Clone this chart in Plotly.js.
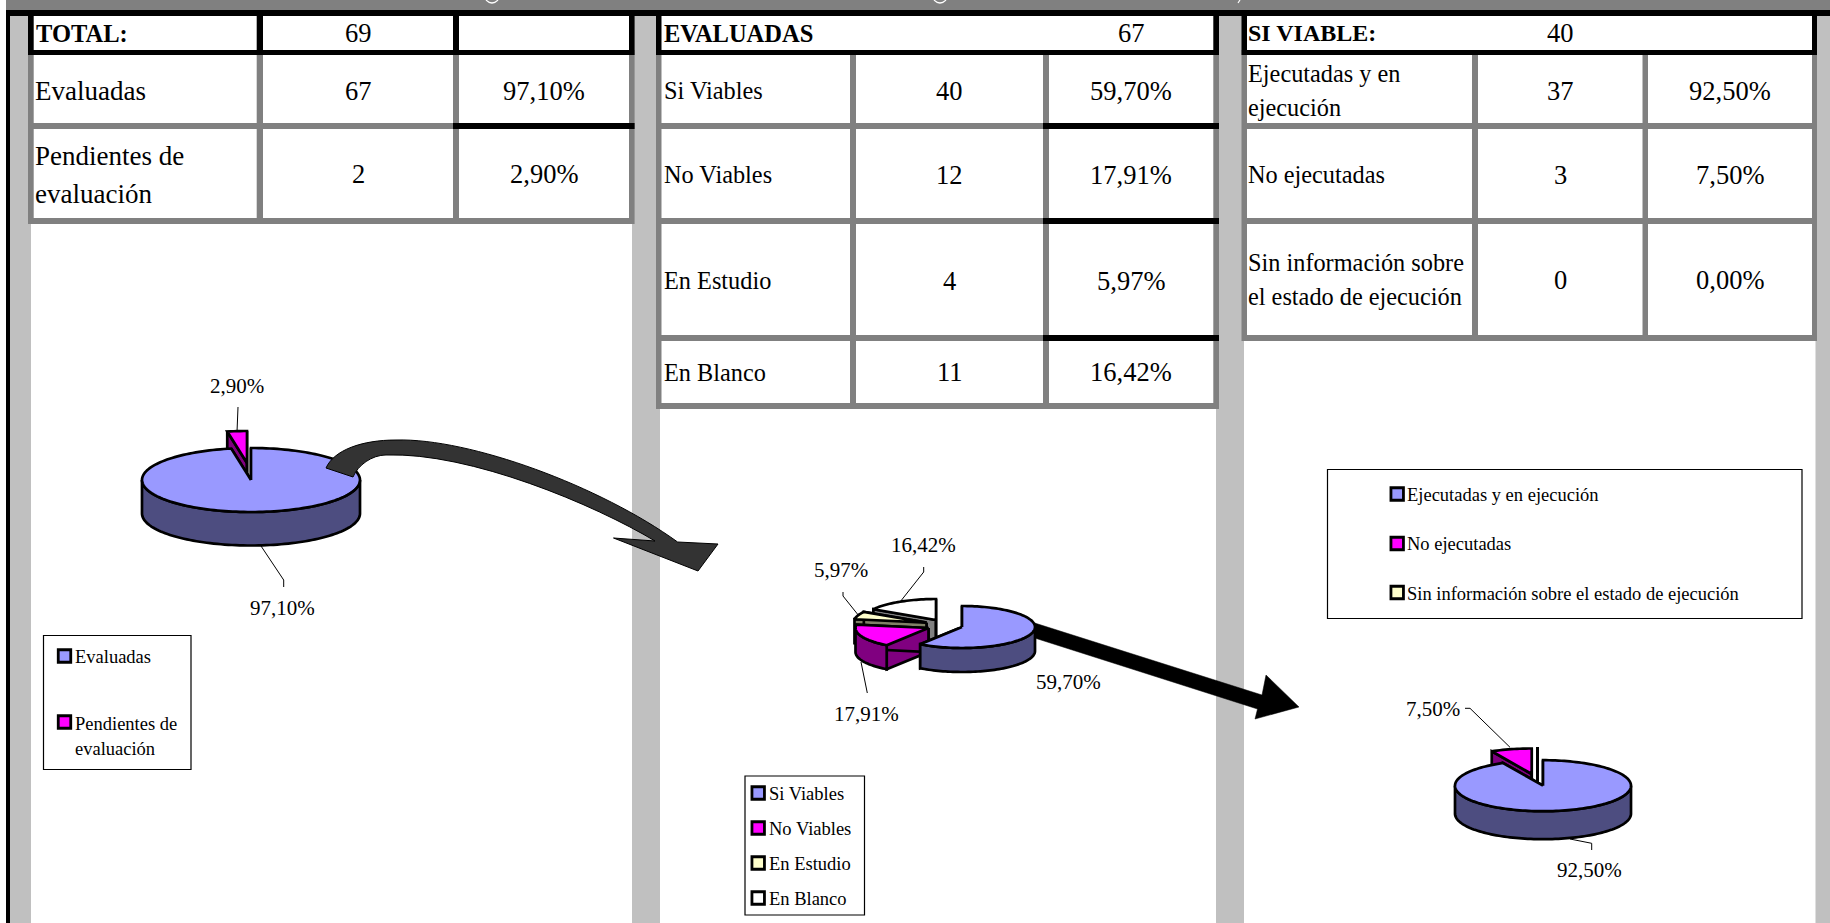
<!DOCTYPE html>
<html>
<head>
<meta charset="utf-8">
<script src="https://cdn.plot.ly/plotly-3.0.1.min.js"></script>
<style>html,body{margin:0;padding:0;background:#fff}#chart{width:1830px;height:923px}</style>
</head>
<body>
<div id="chart"></div>
<script>
// ---------- DATA ----------
const totalHeader = "TOTAL:";
const totalCount = 69;
const totalLabels = ["Evaluadas", "Pendientes de<br>evaluación"];
const totalCounts = [67, 2];
const totalPcts = [97.10, 2.90];
const totalLegend = ["Evaluadas", "Pendientes de<br>evaluación"];

const evalHeader = "EVALUADAS";
const evalCount = 67;
const evalLabels = ["Si Viables", "No Viables", "En Estudio", "En Blanco"];
const evalCounts = [40, 12, 4, 11];
const evalPcts = [59.70, 17.91, 5.97, 16.42];

const viableHeader = "SI VIABLE:";
const viableCount = 40;
const viableLabels = ["Ejecutadas y en<br>ejecución", "No ejecutadas", "Sin información sobre<br>el estado de ejecución"];
const viableCounts = [37, 3, 0];
const viablePcts = [92.50, 7.50, 0.00];
const viableLegend = ["Ejecutadas y en ejecución", "No ejecutadas", "Sin información sobre el estado de ejecución"];

const topColors = ["#9999ff", "#ff00ff", "#ffffcc", "#ffffff"];
const wallColors = ["#4d4d80", "#800080", "#808066", "#808080"];

// ---------- HELPERS ----------
const FONT = "'Liberation Serif','Times New Roman',serif";
const fmtPct = v => v.toFixed(2).replace(".", ",") + "%";
const shapes = [], annotations = [], traces = [];

function rect(x0, y0, x1, y1, fill, layer) {
  shapes.push({type:"rect", xref:"x", yref:"y", x0, y0, x1, y1, fillcolor:fill, line:{width:0}, layer:layer||"below"});
}
function text(x, y, s, size, anchor, bold) {
  annotations.push({x, y, xref:"x", yref:"y", text: bold ? "<b>"+s+"</b>" : s, showarrow:false,
    xanchor:anchor||"center", yanchor:"middle", borderpad:0,
    font:{family:FONT, size, color:"#000"}});
}
function leader(pts) {
  shapes.push({type:"path", xref:"x", yref:"y", layer:"above", line:{color:"#000", width:1},
    path:"M "+pts.map(p=>p.join(" ")).join(" L ")});
}
function poly(xy, fill) {
  traces.push({type:"scatter", mode:"lines", x:xy.map(p=>p[0]), y:xy.map(p=>p[1]),
    fill:"toself", fillcolor:fill, line:{color:"#000", width:2.7, simplify:false},
    hoverinfo:"skip", showlegend:false});
}

// one extruded pie slice, angles in degrees clockwise from 12 o'clock
function slice(g, apex, a0, a1, top, wall) {
  const pt = (d, drop) => { const r = d*Math.PI/180;
    return [apex[0] + g.rx*Math.sin(r), apex[1] - g.ry*Math.cos(r) + (drop||0)]; };
  const arc = (s, e, drop) => { const out = []; const n = Math.max(1, Math.ceil(Math.abs(e-s)/2));
    for (let i=0;i<=n;i++) out.push(pt(s+(e-s)*i/n, drop)); return out; };
  const base = [apex[0], apex[1]+g.depth];
  [a0, a1].forEach(a => {
    const xy = [apex, pt(a), pt(a, g.depth), base, apex];
    poly(xy, wall);
  });
  const fs = Math.max(a0, 90), fe = Math.min(a1, 270);
  if (fe > fs) {
    const xy = arc(fs, fe).concat(arc(fe, fs, g.depth));
    xy.push(xy[0]);
    poly(xy, wall);
  }
  const xy = [apex].concat(arc(a0, a1)); xy.push(apex);
  poly(xy, top);
}
function pie(g, pcts, drawOrder) {
  const starts = []; let acc = 0;
  pcts.forEach(p => { starts.push(acc); acc += p*3.6; });
  drawOrder.forEach(i => slice(g, g.apex[i], starts[i], starts[i]+pcts[i]*3.6, topColors[i], wallColors[i]));
}
function legendBox(x0, y0, x1, y1) {
  shapes.push({type:"rect", xref:"x", yref:"y", x0, y0, x1, y1, fillcolor:"#fff", line:{color:"#000", width:1.2}, layer:"below"});
}
function swatches(xs, ys, colors) {
  traces.push({type:"scatter", mode:"markers", x:ys.map(()=>xs), y:ys,
    marker:{symbol:"square", size:12.5, color:colors, line:{color:"#000", width:2.8}},
    hoverinfo:"skip", showlegend:false, cliponaxis:false});
}

// ---------- PAGE BACKGROUND ----------
rect(6, 0, 1830, 10, "#808080");
rect(6, 10, 1830, 16, "#000000");
rect(6, 16, 10, 923, "#000000");
[[10,31],[632,660],[1216,1244],[1815.5,1830]].forEach(p => rect(p[0], 16, p[1], 923, "#c0c0c0"));
// descender fragments of the cropped title
[[486,498],[934,946]].forEach(p => shapes.push({type:"path", xref:"x", yref:"y", layer:"below",
  line:{color:"#fff", width:1.2}, path:`M ${p[0]} 0 Q ${(p[0]+p[1])/2} 6 ${p[1]} 0`}));
shapes.push({type:"path", xref:"x", yref:"y", layer:"below", line:{color:"#fff", width:1.2}, path:"M 1240 0 L 1238 3"});

// ---------- TABLES ----------
function table(t) {
  const rowsEnd = t.rows[t.rows.length-1][1];
  rect(t.outer[0], 50, t.outer[1], rowsEnd + 6, "#808080");
  rect(t.outer[0], 16, t.outer[1], 55, "#000000");
  if (t.headerSplit) t.cols.forEach(c => rect(c[0], 16, c[1], 50, "#ffffff"));
  else rect(t.cols[0][0], 16, t.cols[2][1], 50, "#ffffff");
  t.rows.forEach(r => t.cols.forEach(c => rect(c[0], r[0], c[1], r[1], "#ffffff")));
  (t.blackSeps||[]).forEach(i => rect(t.cols[2][0]-6, t.rows[i][1], t.outer[1], t.rows[i+1][0], "#000000"));
  text(t.headX, 33, t.header, t.headSize, "left", true);
  text((t.cols[t.countCol][0]+t.cols[t.countCol][1])/2, 33, String(t.count), 26.5);
  t.labels.forEach((lab, i) => {
    const lines = lab.split("<br>");
    const mid = t.textY[i];
    lines.forEach((ln, k) => text(t.textX, mid + (k-(lines.length-1)/2)*t.lineGap, ln, t.labelSize, "left"));
    text((t.cols[1][0]+t.cols[1][1])/2, t.numY[i], String(t.counts[i]), 26.5);
    text((t.cols[2][0]+t.cols[2][1])/2, t.numY[i], fmtPct(t.pcts[i]), 26.5);
  });
}
table({header:totalHeader, count:totalCount, labels:totalLabels, counts:totalCounts, pcts:totalPcts,
  outer:[28,634.6], cols:[[33.7,256.7],[263,453],[459,629]], rows:[[55,123],[129,218]],
  headerSplit:true, blackSeps:[0], countCol:1, textX:33.8, headX:35.3, headSize:24.5, labelSize:27, lineGap:38,
  textY:[91,174.5], numY:[91,174.3]});
table({header:evalHeader, count:evalCount, labels:evalLabels, counts:evalCounts, pcts:evalPcts,
  outer:[656,1219], cols:[[661.5,850],[856,1043],[1049,1213.3]], rows:[[55,123],[129,218],[224,335],[341,403]],
  blackSeps:[0,1,2], countCol:2, textX:663.3, headX:663.3, headSize:24.5, labelSize:24.3, lineGap:35,
  textY:[90.5,174.5,280.5,372], numY:[90.5,174.5,280.5,372]});
table({header:viableHeader, count:viableCount, labels:viableLabels, counts:viableCounts, pcts:viablePcts,
  outer:[1241.5,1817], cols:[[1247,1472],[1478,1642.5],[1648,1812]], rows:[[55,123],[129,218],[224,335]],
  countCol:1, textX:1246.8, headX:1247.3, headSize:24, labelSize:24.3, lineGap:34,
  textY:[90,174.5,279.5], numY:[90.5,174.5,280]});

// ---------- PIES ----------
pie({rx:109, ry:32, depth:33.5, apex:[[251,480],[247,463]]}, totalPcts, [1,0]);
pie({rx:73, ry:21, depth:24, apex:[[962,627],[928.5,628],[926.5,622.7],[936,620]]}, evalPcts, [3,2,1,0]);
pie({rx:88, ry:25.5, depth:28, apex:[[1543,785.7],[1531.7,774],[1537.5,772.5]]}, viablePcts, [2,1,0]);

// value labels and leaders
text(236.7, 385.5, fmtPct(totalPcts[1]), 21);
text(282.5, 608, fmtPct(totalPcts[0]), 21);
leader([[238,407],[237,432]]);
leader([[261,546],[283.7,580],[283.7,587]]);

text(1068.6, 682, fmtPct(evalPcts[0]), 21);
text(866, 714, fmtPct(evalPcts[1]), 21);
text(841.3, 570, fmtPct(evalPcts[2]), 21);
text(923.2, 545, fmtPct(evalPcts[3]), 21);
leader([[923.7,567],[923.7,572],[900,602]]);
leader([[843,592],[843,596],[859,616]]);
leader([[867.3,693],[861,662]]);

text(1432.7, 709, fmtPct(viablePcts[1]), 21);
text(1589, 870, fmtPct(viablePcts[0]), 21);
leader([[1465,708.3],[1470,708.3],[1510,747.3]]);
leader([[1570,839],[1591.7,843.3],[1591.7,850]]);

// ---------- LEGENDS ----------
legendBox(43.5, 635.5, 191, 769.5);
swatches(64.5, [656,722], topColors.slice(0,2));
text(73.7, 657, "Evaluadas", 18.5, "left");
text(73.7, 724, totalLegend[1].split("<br>")[0], 18.5, "left");
text(73.7, 748.5, totalLegend[1].split("<br>")[1], 18.5, "left");

legendBox(745, 776, 864.5, 915);
swatches(758.2, [793,828,863,898], topColors);
evalLabels.forEach((l,i) => text(768.3, [793.5,828.5,863.5,898.5][i], l, 18.5, "left"));

legendBox(1327.5, 469.5, 1802, 618.5);
swatches(1397.2, [494,543.5,592.5], topColors.slice(0,3));
viableLegend.forEach((l,i) => text(1406.3, [495,544,594][i], l, 18.5, "left"));

// ---------- ARROWS ----------
shapes.push({type:"path", xref:"x", yref:"y", layer:"above", fillcolor:"#333333", line:{color:"#000", width:1},
  path:"M 326 468 C 334 450, 362 440, 396 440 C 470 438, 600 486, 677.6 542 "+
       "L 718 544 L 698 571 L 613.5 538 L 655 541 C 595 505, 470 452, 386 455 C 372 455, 358 465, 353 477 Z"});
shapes.push({type:"path", xref:"x", yref:"y", layer:"above", fillcolor:"#000", line:{color:"#000", width:0.5},
  path:"M 1034.7 623 L 1262 695 L 1266 675 L 1299 707 L 1255 719 L 1257.5 709 L 1034.7 638 Z"});

// ---------- RENDER ----------
Plotly.newPlot("chart", traces, {
  width:1830, height:923, autosize:false,
  margin:{l:0, r:0, t:0, b:0, pad:0},
  paper_bgcolor:"#ffffff", plot_bgcolor:"#ffffff",
  showlegend:false, hovermode:false,
  xaxis:{range:[0,1830], visible:false, fixedrange:true},
  yaxis:{range:[923,0], visible:false, fixedrange:true},
  shapes, annotations
}, {displayModeBar:false, staticPlot:true});
</script>
</body>
</html>
